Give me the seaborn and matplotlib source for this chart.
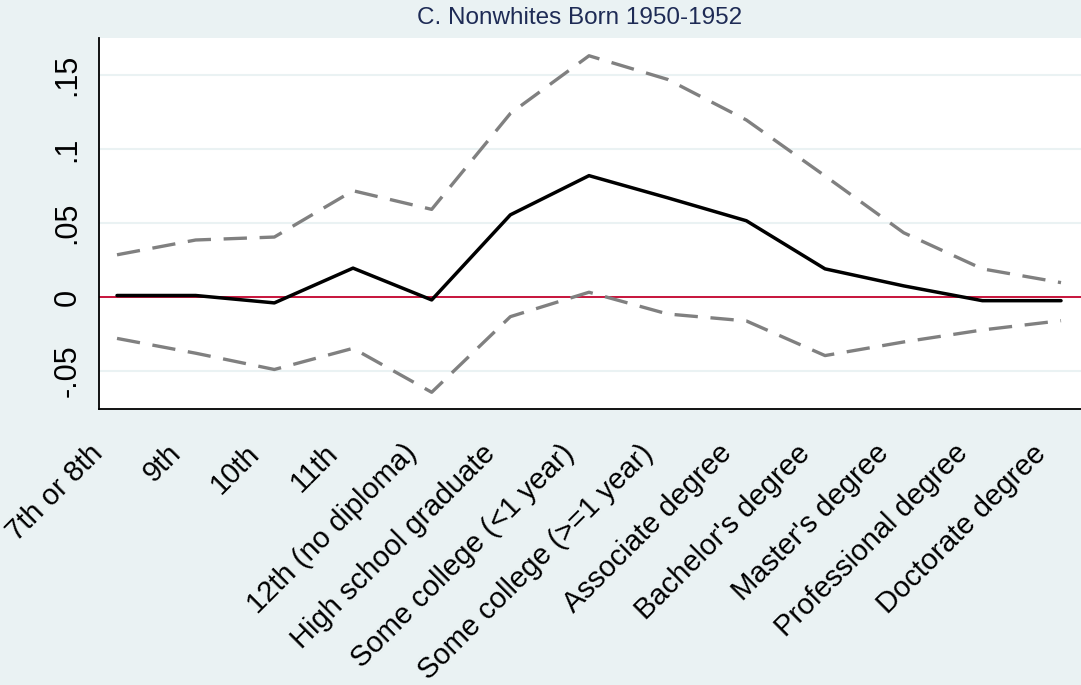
import numpy as np
import pandas as pd
import seaborn as sns
import matplotlib.pyplot as plt
from matplotlib.transforms import ScaledTranslation, blended_transform_factory

# Education categories (x axis)
categories = ["7th or 8th", "9th", "10th", "11th", "12th (no diploma)",
              "High school graduate", "Some college (<1 year)",
              "Some college (>=1 year)", "Associate degree", "Bachelor's degree",
              "Master's degree", "Professional degree", "Doctorate degree"]

# Point estimate and confidence bounds
estimate = [0.001, 0.001, -0.004, 0.0195, -0.002, 0.0555, 0.082,
            0.067, 0.0515, 0.019, 0.0075, -0.0025, -0.0025]
upper = [0.0285, 0.0385, 0.0405, 0.0718, 0.0592, 0.124, 0.163,
         0.147, 0.1196, 0.0818, 0.0434, 0.019, 0.0097]
lower = [-0.028, -0.038, -0.049, -0.0347, -0.0644, -0.0133, 0.0032,
         -0.0115, -0.0162, -0.0396, -0.0304, -0.0223, -0.016]

ytick_vals = [-0.05, 0, 0.05, 0.1, 0.15]
ytick_labels = ["-.05", "0", ".05", ".1", ".15"]

title = "C. Nonwhites Born 1950-1952"

bg = "#EAF2F3"

sns.set_theme(style="white")
plt.rcParams['font.family'] = ['Liberation Sans', 'DejaVu Sans']

df = pd.DataFrame({
    "x": np.arange(1, len(categories) + 1),
    "estimate": estimate,
    "upper": upper,
    "lower": lower,
})

fig = plt.figure(figsize=(10.81, 6.85), dpi=100, facecolor=bg)
ax = fig.add_axes([99/1081, 1 - 409/685, (1081 - 99)/1081, (409 - 38)/685])
ax.set_facecolor("white")

# horizontal grid lines
for v in ytick_vals:
    ax.axhline(v, color=bg, lw=1.5, zorder=0)

ax.axhline(0, color="#C8133B", lw=1.4, zorder=1)

sns.lineplot(data=df, x="x", y="upper", ax=ax, color="#808080", lw=2.4,
             linestyle=(0, (7, 3.8)), zorder=2)
sns.lineplot(data=df, x="x", y="lower", ax=ax, color="#808080", lw=2.4,
             linestyle=(0, (7, 3.8)), zorder=2)
sns.lineplot(data=df, x="x", y="estimate", ax=ax, color="black", lw=2.5, zorder=3)

ax.set_xlim(0.771, 13.254)
ax.set_ylim(-0.0757, 0.175)

# x tick labels drawn as text so they can sit slightly left of the ticks
ax.set_xticks(df["x"])
ax.set_xticklabels([])
trans = blended_transform_factory(ax.transData, ax.transAxes) + \
    ScaledTranslation(-19/100, -40/100, fig.dpi_scale_trans)
for xv, cat in zip(df["x"], categories):
    ax.text(xv, 0, cat, transform=trans, rotation=45, ha="right", va="center",
            rotation_mode="anchor", fontsize=21, color="black", clip_on=False)

ax.set_yticks(ytick_vals)
ax.set_yticklabels(ytick_labels, rotation=90, va="center", fontsize=22,
                   color="black")

ax.tick_params(axis="x", length=11, width=1.3, color="black", pad=16)
ax.tick_params(axis="y", length=9, width=1.3, color="black", pad=3)
ax.set_xlabel("")
ax.set_ylabel("")

for side in ["top", "right"]:
    ax.spines[side].set_visible(False)
for side in ["left", "bottom"]:
    ax.spines[side].set_color("black")
    ax.spines[side].set_linewidth(1.3)

fig.text(580/1081, 1 - 18/685, title, ha="center", va="center",
         fontsize=17.5, color="#1E2B55")

fig.savefig("out.png", dpi=100, facecolor=bg)
